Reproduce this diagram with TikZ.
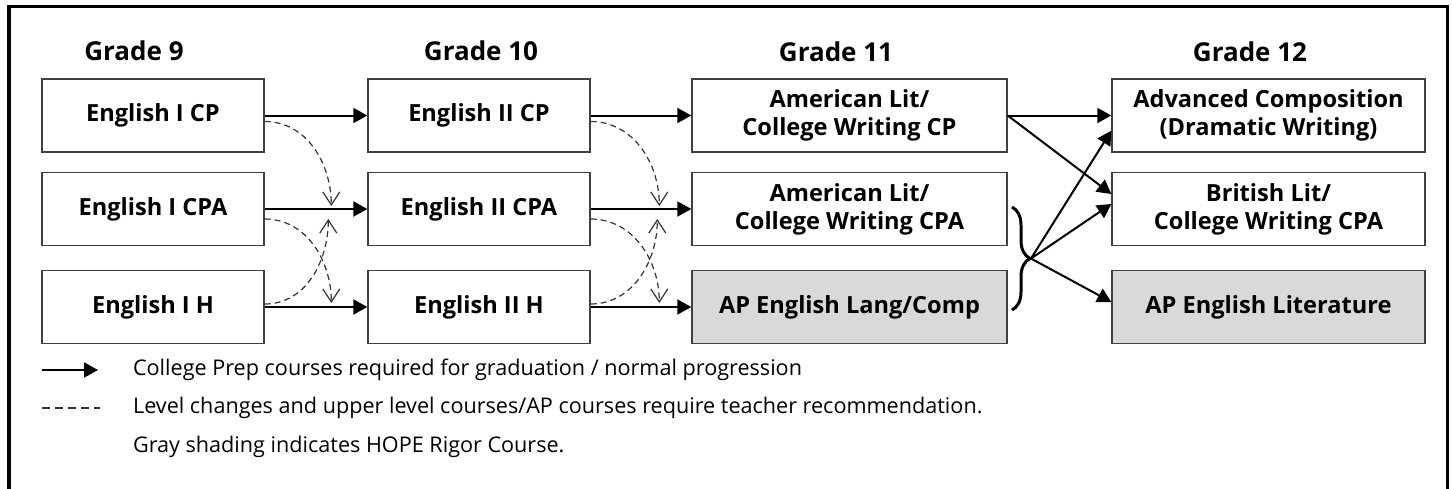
\documentclass[tikz,border=0pt]{standalone}
\usepackage{fontspec}
\setmainfont{Open Sans}
\usetikzlibrary{arrows.meta,decorations.pathreplacing}

\tikzset{
  course/.style = {draw=black!75, line width=0.7pt, minimum height=36.5pt, align=center, inner sep=2pt,
                   font=\bfseries\fontsize{11.8}{14}\selectfont},
  rigor/.style = {course, fill=black!15},
  grade/.style = {font=\bfseries\fontsize{13}{15}\selectfont},
  normal/.style = {line width=1pt, -{Triangle[length=7pt,width=7.5pt]}},
  change/.style = {dash pattern=on 3pt off 2pt, line width=0.6pt, black!80, -{Straight Barb[length=6.5pt,width=8.5pt]}},
  legend/.style = {anchor=west, font=\fontsize{10.8}{13}\selectfont}
}

\begin{document}
\begin{tikzpicture}[x = 0.5pt, y = 0.5pt]
\useasboundingbox (0,0) rectangle (1452,-488);
\draw [line width=1.6pt] (9,-495) -- (9,-6.5) -- (1447.5,-6.5) -- (1447.5,-495);

\node [grade] (g9) at (134,-51) {Grade 9};
\node [grade] (g10) at (481,-51) {Grade 10};
\node [grade] (g11) at (836,-52) {Grade 11};
\node [grade] (g12) at (1250,-52) {Grade 12};

\node [course, minimum width=111pt] (e9cp) at (153,-115.5) {English I CP};
\node [course, minimum width=111pt] (e9cpa) at (153,-209) {English I CPA};
\node [course, minimum width=111pt] (e9h) at (153,-307) {English I H};

\node [course, minimum width=111pt] (e10cp) at (479,-115.5) {English II CP};
\node [course, minimum width=111pt] (e10cpa) at (479,-209) {English II CPA};
\node [course, minimum width=111pt] (e10h) at (479,-307) {English II H};

\node [course, minimum width=157.5pt] (e11cp) at (849.5,-115.5) {American Lit/\\College Writing CP};
\node [course, minimum width=157.5pt] (e11cpa) at (849.5,-209) {American Lit/\\College Writing CPA};
\node [rigor, minimum width=157.5pt] (ap11) at (849.5,-307) {AP English Lang/Comp};

\node [course, minimum width=156.5pt] (e12adv) at (1268.5,-115.5) {Advanced Composition\\(Dramatic Writing)};
\node [course, minimum width=156.5pt] (e12brit) at (1268.5,-209) {British Lit/\\College Writing CPA};
\node [rigor, minimum width=156.5pt] (ap12) at (1268.5,-307) {AP English Literature};

\draw [normal] (e9cp) -- (e10cp);
\draw [normal] (e9cpa) -- (e10cpa);
\draw [normal] (e9h) -- (e10h);
\draw [normal] (e10cp) -- (e11cp);
\draw [normal] (e10cpa) -- (e11cpa);
\draw [normal] (e10h) -- (ap11);

\draw [change] ([yshift=-3pt]e9cp.east) to [out=0, in=90] ([xshift=-18pt, yshift=1.5pt]e10cpa.west);
\draw [change] ([yshift=-5pt]e9cpa.east) to [out=0, in=90] ([xshift=-18pt, yshift=2pt]e10h.west);
\draw [change] ([yshift=1.5pt]e9h.east) to [out=0, in=-90] ([xshift=-19.5pt, yshift=-5pt]e10cpa.west);
\draw [change] ([yshift=-3pt]e10cp.east) to [out=0, in=90] ([xshift=-16pt, yshift=1.5pt]e11cpa.west);
\draw [change] ([yshift=-5pt]e10cpa.east) to [out=0, in=90] ([xshift=-16pt, yshift=2pt]ap11.west);
\draw [change] ([yshift=1.5pt]e10h.east) to [out=0, in=-90] ([xshift=-17pt, yshift=-5pt]e11cpa.west);

\draw [decorate, decoration={brace, amplitude=9pt}, line width=1.5pt] (1012,-207) -- (1012,-310);
\coordinate (tip) at (1031,-258.5);

\draw [normal] (e11cp.east) -- (e12adv.west);
\draw [normal] (e11cp.east) -- ([yshift=7.5pt]e12brit.west);
\draw [normal] (tip) -- ([yshift=11pt]e12adv.south west);
\draw [normal] (tip) -- ([yshift=2.5pt]e12brit.west);
\draw [normal] (tip) -- ([yshift=2.5pt]ap12.west);

\coordinate (solidA) at (42,-370);
\coordinate (solidB) at (98,-370);
\coordinate (dashA) at (42,-408);
\coordinate (dashB) at (100,-408);
\draw [normal] (solidA) -- (solidB);
\draw [dash pattern=on 4pt off 2.5pt, line width=0.6pt, black!80] (dashA) -- (dashB);
\node [legend] (leg1) at (126,-370) {College Prep courses required for graduation / normal progression};
\node [legend] (leg2) at (126,-408) {Level changes and upper level courses/AP courses require teacher recommendation.};
\node [legend] (leg3) at (126,-447) {Gray shading indicates HOPE Rigor Course.};
\end{tikzpicture}
\end{document}
